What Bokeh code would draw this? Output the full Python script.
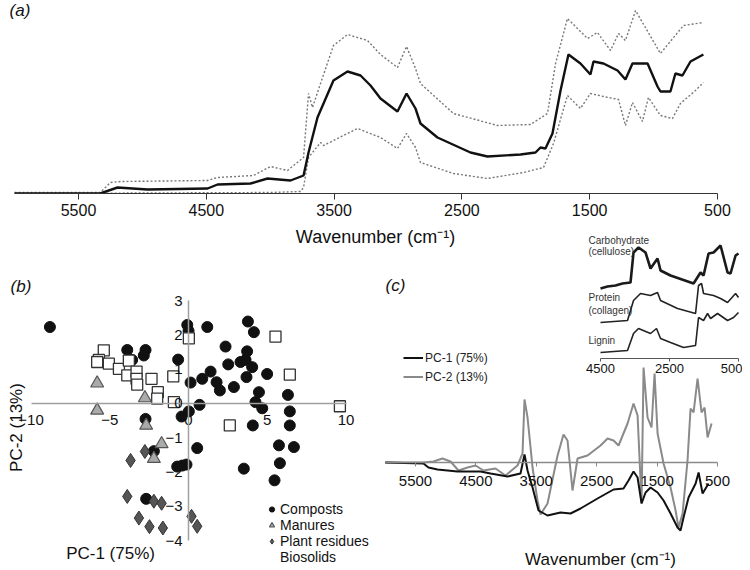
from bokeh.plotting import figure
from bokeh.models import Range1d, LinearAxis, FixedTicker, Label, Legend, CustomJSTickFormatter
from bokeh.layouts import column, row
from bokeh.embed import file_html
from bokeh.resources import INLINE

FONT = "Liberation Sans"

# ---------------- Panel (a): mean spectrum +/- SD ----------------
a_wn_mean = [6000, 5330, 5195, 4960, 4490, 4412, 4154, 4021, 3841, 3739, 3700, 3630, 3505, 3395, 3293,
             3215, 3137, 3004, 2933, 2863, 2824, 2691, 2433, 2300, 2041, 1924, 1885, 1846, 1791, 1728,
             1666, 1572, 1494, 1470, 1392, 1282, 1220, 1165, 1047, 969, 946, 868, 829, 774, 711, 610]
a_mean = [0.00, 0.00, 0.06, 0.04, 0.05, 0.09, 0.10, 0.15, 0.13, 0.18, 0.41, 0.76, 1.13, 1.22, 1.18,
          1.08, 0.95, 0.82, 1.00, 0.85, 0.70, 0.56, 0.41, 0.37, 0.39, 0.41, 0.46, 0.45, 0.60, 1.03,
          1.39, 1.30, 1.19, 1.32, 1.30, 1.23, 1.14, 1.30, 1.30, 1.07, 1.02, 1.02, 1.20, 1.18, 1.32, 1.39]
a_wn_upper = [6000, 5330, 5250, 5171, 4491, 4412, 4131, 3998, 3865, 3739, 3700, 3669, 3606, 3505, 3395,
              3239, 3137, 3004, 2933, 2863, 2824, 2566, 2221, 1963, 1830, 1767, 1674, 1517, 1439, 1337,
              1274, 1220, 1141, 946, 766, 610]
a_upper = [0.01, 0.01, 0.11, 0.12, 0.13, 0.16, 0.18, 0.27, 0.23, 0.36, 1.00, 0.86, 1.10, 1.48, 1.59,
           1.53, 1.39, 1.26, 1.47, 1.25, 1.10, 0.80, 0.68, 0.69, 0.80, 1.30, 1.75, 1.55, 1.61, 1.43,
           1.60, 1.53, 1.83, 1.40, 1.68, 1.71]
a_wn_lower = [6000, 4000, 3763, 3739, 3700, 3606, 3583, 3317, 3137, 3004, 2933, 2863, 2824, 2566, 2300,
              2018, 1861, 1783, 1674, 1572, 1494, 1392, 1274, 1220, 1165, 1087, 1040, 946, 852, 790,
              672, 610]
a_lower = [0.00, 0.01, 0.02, 0.06, 0.36, 0.51, 0.48, 0.65, 0.56, 0.45, 0.60, 0.46, 0.31, 0.20, 0.15,
           0.21, 0.26, 0.50, 0.98, 0.85, 1.00, 0.97, 0.94, 0.68, 0.91, 0.72, 0.96, 0.78, 0.75, 0.90,
           1.03, 1.11]
a_ticks = [5500, 4500, 3500, 2500, 1500, 500]
wn_title = "Wavenumber (cm\u207b\u00b9)"

# ---------------- Panel (b): PCA scores ----------------
compost_x = [-8.80, -3.89, -2.73, -2.84, -3.58, -0.08, 0.00, 1.19, 3.77, 4.15, -0.66, 2.35, 3.72, 2.52,
             3.30, 3.62, 4.04, 1.40, 0.87, 0.13, 1.78, 1.99, 2.88, 3.68, 4.99, 4.47, 4.25, 4.68, 6.31,
             6.43, 6.43, 5.74, 6.69, 5.80, 5.46, 3.51, 4.08, 0.70, 0.02, -0.44, 0.55, -0.72, -0.40,
             -0.13, -2.73, -2.20, -2.69]
compost_y = [2.23, 1.56, 1.56, 1.40, 1.27, 2.29, 2.12, 2.23, 2.39, 2.08, 1.28, 1.66, 1.52, 1.14,
             1.21, 1.27, 1.06, 0.93, 0.72, 0.61, 0.62, 0.38, 0.48, 0.77, 0.86, 0.33, 0.04, -0.14, 0.25,
             -0.23, -0.64, -1.22, -1.27, -1.74, -2.24, -1.90, -0.64, -0.04, -0.23, -0.38, -1.30, -1.84,
             -1.81, -1.78, -0.45, -1.39, -2.78]
manure_x = [-5.80, -5.80, -2.77, -2.69, -1.71, -2.20]
manure_y = [0.59, -0.20, 0.16, -0.64, -1.18, -1.61]
plant_x = [-3.68, -2.77, -3.89, -2.20, -1.71, -3.15, -2.48, -1.63, 0.19, 0.55]
plant_y = [-1.66, -1.40, -2.71, -2.85, -2.91, -3.34, -3.59, -3.63, -3.29, -3.58]
bio_x = [-5.38, -5.69, -5.80, -5.06, -4.42, -3.79, -3.89, -3.30, -3.30, -3.26, -2.35, -1.95, -1.99,
         -0.97, -0.93, 0.02, 5.52, 6.43, 9.61, 2.62]
bio_y = [1.55, 1.27, 1.21, 1.16, 1.01, 1.25, 0.82, 0.93, 0.72, 0.55, 0.72, 0.33, 0.14,
         0.79, 0.04, 1.90, 1.95, 0.84, -0.08, -0.64]
b_xticks = [-10, -5, 0, 5, 10]
b_yticks = [-4, -3, -2, -1, 0, 1, 2, 3]

# ---------------- Panel (c): PC loadings + reference spectra ----------------
pc_wn1 = [6000, 5368, 5285, 5136, 4804, 4424, 4258, 3976, 3761, 3695, 3645, 3562, 3463, 3314, 3099,
          2933, 2768, 2486, 2221, 2056, 1973, 1890, 1823, 1757, 1691, 1608, 1492, 1393, 1277, 1161,
          1112, 1062, 979, 862, 813, 747, 648]
pc1 = [0.00, -0.01, -0.05, -0.07, -0.09, -0.09, -0.11, -0.14, -0.11, 0.08, -0.08, -0.25, -0.48, -0.53, -0.50,
       -0.51, -0.46, -0.36, -0.27, -0.26, -0.18, -0.09, -0.15, -0.41, -0.30, -0.25, -0.30, -0.38, -0.51, -0.65,
       -0.68, -0.55, -0.35, -0.21, -0.10, -0.31, -0.21]
pc_wn2 = [6000, 5368, 5202, 5053, 4920, 4788, 4639, 4506, 4374, 4175, 4010, 3811, 3728, 3695, 3645,
          3562, 3480, 3430, 3314, 3148, 3049, 2983, 2900, 2817, 2652, 2436, 2320, 2221, 2138, 1989,
          1890, 1823, 1757, 1724, 1658, 1592, 1542, 1492, 1393, 1277, 1194, 1145, 1078, 996, 946,
          896, 830, 764, 714, 664, 598]
pc2 = [0.00, 0.00, 0.01, 0.04, 0.01, -0.08, -0.05, -0.03, -0.08, -0.06, -0.13, -0.03, 0.09, 0.63, 0.45,
       -0.05, -0.38, -0.52, -0.41, 0.07, 0.28, 0.22, -0.28, 0.04, 0.07, 0.17, 0.24, 0.22, 0.17, 0.39,
       0.59, 0.47, -0.40, 0.95, 0.45, 0.35, 0.89, 0.29, -0.01, -0.25, -0.48, -0.65, -0.51, 0.02, 0.54,
       0.50, 0.84, 0.50, 0.55, 0.25, 0.39]
c_ticks = [5500, 4500, 3500, 2500, 1500, 500]

inset_wn_carb = [4500, 4297, 4065, 3862, 3630, 3543, 3398, 3195, 3050, 2847, 2760, 2470, 1803, 1600,
                 1513, 1368, 1223, 1020, 817, 730, 585, 500]
inset_carb = [0.00, 0.02, 0.03, 0.05, 0.06, 0.36, 0.41, 0.36, 0.20, 0.30, 0.18, 0.13, 0.05, 0.16,
              0.13, 0.35, 0.36, 0.43, 0.16, 0.15, 0.33, 0.35]
inset_wn_prot = [4500, 3717, 3543, 3340, 3050, 2847, 2760, 2267, 1745, 1658, 1571, 1513, 1223, 1020,
                 817, 585, 500]
inset_prot = [0.00, 0.02, 0.22, 0.29, 0.27, 0.30, 0.22, 0.14, 0.09, 0.37, 0.39, 0.29, 0.27, 0.24,
              0.20, 0.29, 0.25]
inset_wn_lig = [4500, 3717, 3543, 3398, 3050, 2876, 2760, 2470, 2093, 1745, 1658, 1513, 1397, 1310,
                1107, 817, 643, 500]
inset_lig = [0.00, 0.02, 0.19, 0.24, 0.19, 0.24, 0.14, 0.10, 0.05, 0.07, 0.35, 0.32, 0.39, 0.34,
             0.39, 0.32, 0.35, 0.40]
inset_ticks = [4500, 2500, 500]

minus_fmt = "return tick < 0 ? '\u2212' + Math.abs(tick) : '' + tick;"

# ================= figure (a) =================
pa = figure(width=734, height=253, output_backend="svg", toolbar_location=None,
            x_range=Range1d(6048, 304), y_range=Range1d(0, 1.93),
            min_border_left=0, min_border_right=0, min_border_top=0, min_border_bottom=60,
            outline_line_color=None)
pa.grid.visible = False
pa.yaxis.visible = False
xa = pa.xaxis[0]
xa.bounds = (500, 6000)
xa.ticker = FixedTicker(ticks=a_ticks)
xa.minor_tick_line_color = None
xa.major_tick_out = 6
xa.major_tick_in = 0
xa.axis_line_color = "#333333"
xa.major_tick_line_color = "#333333"
xa.major_label_text_font = FONT
xa.major_label_text_font_size = "16px"
xa.major_label_text_color = "#111111"
xa.major_label_standoff = 4
xa.axis_label = wn_title
xa.axis_label_text_font = FONT
xa.axis_label_text_font_size = "18px"
xa.axis_label_text_font_style = "normal"
xa.axis_label_text_color = "#111111"
xa.axis_label_standoff = 8

pa.line(a_wn_upper, a_upper, line_color="#777777", line_dash="2 2", line_width=1.4)
pa.line(a_wn_lower, a_lower, line_color="#777777", line_dash="2 2", line_width=1.4)
pa.line(a_wn_mean, a_mean, line_color="#111111", line_width=2.4)
pa.add_layout(Label(x=6040, y=1.83, text="(a)", text_font=FONT, text_font_size="17px",
                    text_font_style="italic", text_baseline="middle", text_color="#111111"))

# ================= figure (b) =================
pb = figure(width=367, height=317, output_backend="svg", toolbar_location=None,
            x_range=Range1d(-11.43, 11.87), y_range=Range1d(-4.869, 4.373),
            min_border=0, outline_line_color=None)
pb.grid.visible = False
for ax in (pb.xaxis[0], pb.yaxis[0]):
    ax.fixed_location = 0
    ax.axis_line_color = "#a0a0a0"
    ax.axis_line_width = 1.5
    ax.major_tick_in = 0
    ax.major_tick_out = 0
    ax.minor_tick_line_color = None
    ax.major_tick_line_color = None
    ax.major_label_text_font = FONT
    ax.major_label_text_font_size = "15px"
    ax.major_label_text_color = "#111111"
    ax.formatter = CustomJSTickFormatter(code=minus_fmt)
pb.xaxis[0].bounds = (-10, 10)
pb.xaxis[0].ticker = FixedTicker(ticks=b_xticks)
pb.xaxis[0].major_label_standoff = 12
pb.yaxis[0].bounds = (-4, 3)
pb.yaxis[0].ticker = FixedTicker(ticks=b_yticks)
pb.yaxis[0].major_label_standoff = 6

rc = pb.scatter(compost_x, compost_y, marker="circle", size=11, fill_color="#111111", line_color="#111111")
rs = pb.scatter(bio_x, bio_y, marker="square", size=11, fill_color="white", line_color="#333333", line_width=1.3)
rt = pb.scatter(manure_x, manure_y, marker="triangle", size=13, fill_color="#aaaaaa", line_color="#555555", line_width=1.2)
rd = pb.scatter(plant_x, plant_y, marker="diamond", size=14, fill_color="#555555", line_color="#333333")
rblank = pb.scatter([], [], marker="square", size=8, fill_alpha=0, line_alpha=0)

leg_b = Legend(items=[("Composts", [rc]), ("Manures", [rt]), ("Plant residues", [rd]), ("Biosolids", [rblank])],
               location=(257, 5), label_text_font=FONT, label_text_font_size="14px", label_text_color="#111111",
               glyph_width=13, glyph_height=16, label_height=16, label_standoff=2, spacing=0,
               padding=0, margin=0, border_line_color=None, background_fill_alpha=0)
pb.add_layout(leg_b)
pb.add_layout(Label(x=-11.3, y=3.41, text="(b)", text_font=FONT, text_font_size="17px",
                    text_font_style="italic", text_baseline="middle", text_color="#111111"))
pb.add_layout(Label(x=-4.95, y=-4.37, text="PC-1 (75%)", text_font=FONT, text_font_size="17px",
                    text_align="center", text_baseline="middle", text_color="#111111"))
pb.add_layout(Label(x=-10.95, y=-0.70, text="PC-2 (13%)", text_font=FONT, text_font_size="17px",
                    text_align="center", text_baseline="middle", angle=1.5708, text_color="#111111"))

# ================= figure (c) =================
INSET_AXIS_Y = 1.04
inset_offsets = [0.70, 0.36, 0.06]

pc = figure(width=367, height=340, output_backend="svg", toolbar_location=None,
            x_range=Range1d(6162, 86), y_range=Range1d(-1.08, 2.32),
            min_border=0, outline_line_color=None, margin=(-23, 0, 0, 0),
            background_fill_alpha=0, border_fill_alpha=0)
pc.extra_x_ranges = {"inset_x": Range1d(11022, 384)}
pc.grid.visible = False
pc.yaxis.visible = False
xc = pc.xaxis[0]
xc.fixed_location = 0
xc.bounds = (500, 6000)
xc.ticker = FixedTicker(ticks=c_ticks)
xc.minor_tick_line_color = None
xc.axis_line_color = "#8a8a8a"
xc.axis_line_width = 1.5
xc.major_tick_line_color = "#8a8a8a"
xc.major_tick_out = 4
xc.major_tick_in = 0
xc.major_label_text_font = FONT
xc.major_label_text_font_size = "15px"
xc.major_label_text_color = "#111111"
xc.major_label_standoff = 9

ax_in = LinearAxis(x_range_name="inset_x", fixed_location=INSET_AXIS_Y, bounds=(500, 4500),
                   ticker=FixedTicker(ticks=inset_ticks))
ax_in.minor_tick_line_color = None
ax_in.axis_line_color = "#555555"
ax_in.major_tick_line_color = "#555555"
ax_in.major_tick_out = 3
ax_in.major_tick_in = 0
ax_in.major_label_text_font = FONT
ax_in.major_label_text_font_size = "13px"
ax_in.major_label_text_color = "#111111"
ax_in.major_label_standoff = 2
pc.add_layout(ax_in, "below")

l2 = pc.line(pc_wn2, pc2, line_color="#8a8a8a", line_width=2)
l1 = pc.line(pc_wn1, pc1, line_color="#111111", line_width=2)

pc.line(inset_wn_carb, [v + inset_offsets[0] + INSET_AXIS_Y for v in inset_carb], x_range_name="inset_x",
        line_color="#1a1a1a", line_width=2.6)
pc.line(inset_wn_prot, [v + inset_offsets[1] + INSET_AXIS_Y for v in inset_prot], x_range_name="inset_x",
        line_color="#222222", line_width=1.6)
pc.line(inset_wn_lig, [v + inset_offsets[2] + INSET_AXIS_Y for v in inset_lig], x_range_name="inset_x",
        line_color="#222222", line_width=1.6)

for txt, yy in [("Carbohydrate", 2.22), ("(cellulose)", 2.11), ("Protein", 1.65), ("(collagen)", 1.52), ("Lignin", 1.22)]:
    pc.add_layout(Label(x=2636, y=yy, text=txt, text_font=FONT, text_font_size="10px",
                        text_baseline="middle", text_color="#333333"))

leg_c = Legend(items=[("PC-1 (75%)", [l1]), ("PC-2 (13%)", [l2])], location=(28, 184),
               label_text_font=FONT, label_text_font_size="12px", label_text_color="#222222",
               glyph_width=20, glyph_height=19, label_height=19, label_standoff=2, spacing=0,
               padding=0, margin=0, border_line_color=None, background_fill_alpha=0)
pc.add_layout(leg_c)
pc.add_layout(Label(x=5997, y=1.77, text="(c)", text_font=FONT, text_font_size="17px",
                    text_font_style="italic", text_baseline="middle", text_color="#111111"))
pc.add_layout(Label(x=2437, y=-0.97, text=wn_title, text_font=FONT, text_font_size="17px",
                    text_align="center", text_baseline="middle", text_color="#111111"))

layout = column(pa, row(pb, pc), margin=(0, 0, 0, 8))
open("out.html", "w").write(file_html(layout, INLINE))
